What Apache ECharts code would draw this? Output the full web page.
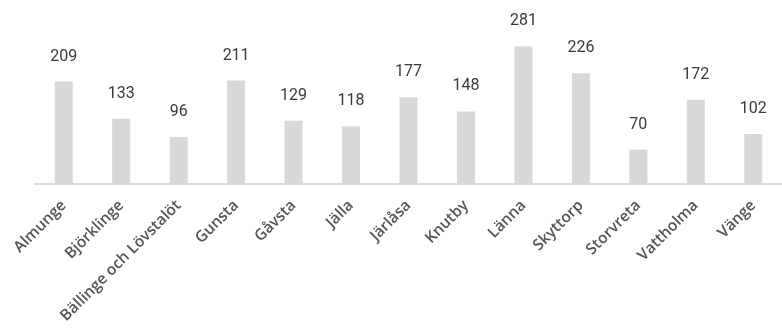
<!DOCTYPE html>
<html>
<head>
<meta charset="utf-8">
<script src="https://cdn.jsdelivr.net/npm/echarts@6/dist/echarts.min.js"></script>
<style>
  html, body { margin: 0; padding: 0; background: #ffffff; }
  #chart { width: 782px; height: 329px; }
</style>
</head>
<body>
<div id="chart"></div>
<script>
// Districts along the category axis
const districts = [
  'Almunge', 'Björklinge', 'Bällinge och Lövstalöt', 'Gunsta', 'Gåvsta',
  'Jälla', 'Järlåsa', 'Knutby', 'Länna', 'Skyttorp', 'Storvreta',
  'Vattholma', 'Vänge'
];

// Count per district
const counts = [209, 133, 96, 211, 129, 118, 177, 148, 281, 226, 70, 172, 102];

const chart = echarts.init(document.getElementById('chart'), null, { renderer: 'canvas' });

chart.setOption({
  animation: false,
  backgroundColor: '#ffffff',
  grid: {
    left: 35,
    width: 758,
    top: 37,
    bottom: 145,
    containLabel: false
  },
  xAxis: {
    type: 'category',
    data: districts,
    axisLine: { show: true, lineStyle: { color: '#dcdcdc', width: 2 } },
    axisTick: { show: false },
    axisLabel: {
      rotate: 45,
      interval: 0,
      margin: 19,
      color: '#555555',
      fontFamily: 'Open Sans',
      fontWeight: 600,
      fontSize: 15.5
    }
  },
  yAxis: {
    type: 'value',
    min: 0,
    max: 300,
    show: false,
    splitLine: { show: false }
  },
  series: [{
    type: 'bar',
    data: counts,
    barWidth: 18,
    itemStyle: { color: '#d8d8d8' },
    label: {
      show: true,
      position: 'top',
      distance: 17,
      color: '#3a3a3a',
      fontFamily: 'Roboto',
      fontSize: 16
    }
  }]
});
</script>
</body>
</html>
